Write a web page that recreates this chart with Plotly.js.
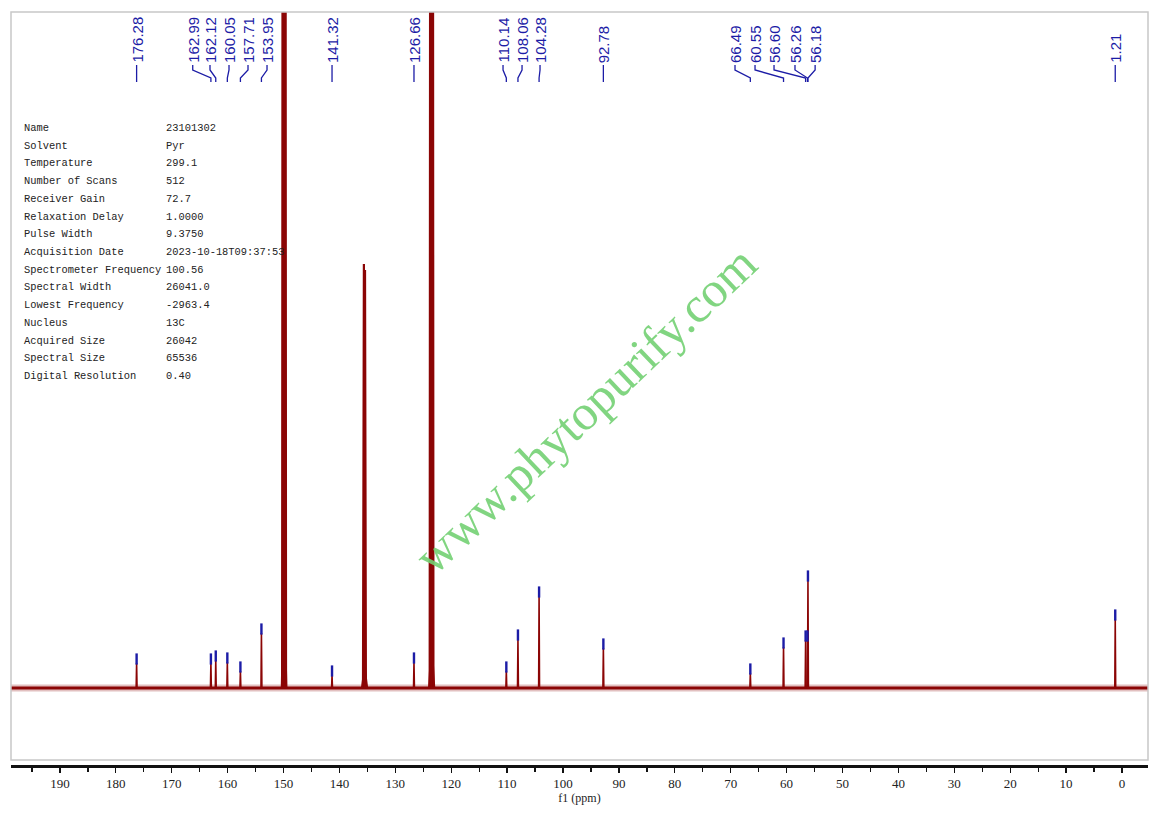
<!DOCTYPE html>
<html>
<head>
<meta charset="utf-8">
<script src="https://cdn.plot.ly/plotly-3.0.1.min.js"></script>
<style>
  body { margin: 0; background: #fff; }
  #spectrum { width: 1156px; height: 815px; }
</style>
</head>
<body>
<div id="spectrum"></div>
<script>
// labelled peaks: shift (ppm), height above baseline, where the label text sits
const peakPpm    = [176.28, 162.99, 162.12, 160.05, 157.71, 153.95, 141.32, 126.66, 110.14, 108.06, 104.28, 92.78, 66.49, 60.55, 56.60, 56.26, 56.18, 1.21];
const peakHeight = [25, 25, 28, 26, 17, 55, 13, 26, 17, 49, 92, 40, 15, 41, 48, 48, 108, 69];
const labelPpm   = [176.28, 166.24, 163.15, 159.75, 156.35, 152.95, 141.32, 126.66, 110.73, 107.33, 104.11, 92.78, 69.23, 65.65, 62.25, 58.5, 54.9, 1.21];

// pyridine-d5 solvent lines (no labels), two of them run off the top
const solventPpm    = [150.05, 149.75, 149.9, 135.62, 135.42, 135.5, 123.65, 123.38, 123.5];
const solventHeight = [2000, 2000, 100, 424, 418, 20, 2000, 2000, 45];
const solventWidth  = [0.2, 0.2, 0.4, 0.16, 0.16, 0.45, 0.2, 0.2, 0.45];

// acquisition parameters
const paramNames  = ['Name', 'Solvent', 'Temperature', 'Number of Scans', 'Receiver Gain', 'Relaxation Delay', 'Pulse Width', 'Acquisition Date', 'Spectrometer Frequency', 'Spectral Width', 'Lowest Frequency', 'Nucleus', 'Acquired Size', 'Spectral Size', 'Digital Resolution'];
const paramValues = ['23101302', 'Pyr', '299.1', '512', '72.7', '1.0000', '9.3750', '2023-10-18T09:37:53', '100.56', '26041.0', '-2963.4', '13C', '26042', '65536', '0.40'];

const xTicks      = [190, 180, 170, 160, 150, 140, 130, 120, 110, 100, 90, 80, 70, 60, 50, 40, 30, 20, 10, 0];
const xMinorTicks = [195, 185, 175, 165, 155, 145, 135, 125, 115, 105, 95, 85, 75, 65, 55, 45, 35, 25, 15, 5];

const xRange = [198.75, -4.65];
const red = '#8b0505';
const blue = '#1c1ca6';

// pixel -> paper helper (plot area is 12..765 px high)
function py(px) { return (765 - px) / 753; }

function sticks(ppm, h, w) {
    let x = [], y = [];
    ppm.forEach(function (p, i) {
        x.push(p + w[i], p, p - w[i], null);
        y.push(0, h[i], 0, null);
    });
    return { x: x, y: y };
}

let small = sticks(peakPpm, peakHeight, peakPpm.map(function () { return 0.08; }));
let solvent = sticks(solventPpm, solventHeight, solventWidth);

let data = [
    // noise band of the baseline
    { x: xRange, y: [0, 0], mode: 'lines', line: { color: red, width: 7 }, opacity: 0.25, hoverinfo: 'skip' },
    { x: xRange, y: [0, 0], mode: 'lines', line: { color: red, width: 3 }, hoverinfo: 'skip' },
    { x: solvent.x, y: solvent.y, mode: 'lines', line: { color: red, width: 2.2 }, connectgaps: false },
    { x: small.x, y: small.y, mode: 'lines', line: { color: red, width: 1.6 }, connectgaps: false },
    // peak picking marks
    {
        x: peakPpm,
        y: peakHeight.map(function (h) { return h + 4; }),
        mode: 'markers',
        marker: { symbol: 'line-ns', size: 8, line: { color: blue, width: 2.4 } }
    }
];

let annotations = [];
let shapes = [
    { type: 'rect', xref: 'paper', yref: 'paper', x0: 0, x1: 1, y0: py(760), y1: 1, line: { color: '#c8c8c8', width: 1.5 } }
];

peakPpm.forEach(function (p, i) {
    annotations.push({
        x: labelPpm[i], xref: 'x', y: py(64), yref: 'paper',
        text: p.toFixed(2), textangle: -90, showarrow: false,
        xanchor: 'center', yanchor: 'bottom', borderpad: 0,
        font: { family: 'Liberation Sans, Arial', size: 15, color: blue }
    });
    let lx = labelPpm[i];
    shapes.push({
        type: 'path', xref: 'x', yref: 'paper',
        path: 'M ' + lx + ',' + py(65) + ' L ' + lx + ',' + py(70) + ' L ' + p + ',' + py(78) + ' L ' + p + ',' + py(82),
        line: { color: blue, width: 1.3 }
    });
});

paramNames.forEach(function (name, i) {
    let yy = py(128 + i * 17.71);
    annotations.push({
        x: (22 - 11) / 1137, xref: 'paper', y: yy, yref: 'paper', text: name, showarrow: false,
        xanchor: 'left', yanchor: 'middle', font: { family: 'Liberation Mono, monospace', size: 10.4, color: '#222' }
    });
    annotations.push({
        x: (164 - 11) / 1137, xref: 'paper', y: yy, yref: 'paper', text: paramValues[i], showarrow: false,
        xanchor: 'left', yanchor: 'middle', font: { family: 'Liberation Mono, monospace', size: 10.4, color: '#222' }
    });
});

// watermark
annotations.push({
    x: (585 - 11) / 1137, xref: 'paper', y: py(410), yref: 'paper',
    text: 'www.phytopurify.com', textangle: -43.5, showarrow: false,
    xanchor: 'center', yanchor: 'middle',
    font: { family: 'Liberation Serif, Times New Roman', size: 50, color: 'rgba(115,208,115,0.9)' }
});

let layout = {
    width: 1156,
    height: 815,
    margin: { l: 11, r: 8, t: 12, b: 50 },
    paper_bgcolor: '#ffffff',
    plot_bgcolor: '#ffffff',
    showlegend: false,
    xaxis: {
        range: xRange,
        tickmode: 'array',
        tickvals: xTicks,
        ticks: 'outside',
        ticklen: 5,
        tickwidth: 1.3,
        tickcolor: '#111',
        showline: true,
        linewidth: 2.5,
        linecolor: '#111',
        showgrid: false,
        zeroline: false,
        tickfont: { family: 'Liberation Serif, Times New Roman', size: 13, color: '#222' },
        title: { text: 'f1 (ppm)', standoff: 3, font: { family: 'Liberation Serif, Times New Roman', size: 12, color: '#222' } },
        minor: { tickmode: 'array', tickvals: xMinorTicks, ticks: 'outside', ticklen: 4, tickwidth: 1.3, tickcolor: '#111', showgrid: false }
    },
    yaxis: { range: [-77, 676], visible: false, showgrid: false, zeroline: false },
    annotations: annotations,
    shapes: shapes
};

Plotly.newPlot('spectrum', data, layout, { displayModeBar: false, staticPlot: true });
</script>
</body>
</html>
